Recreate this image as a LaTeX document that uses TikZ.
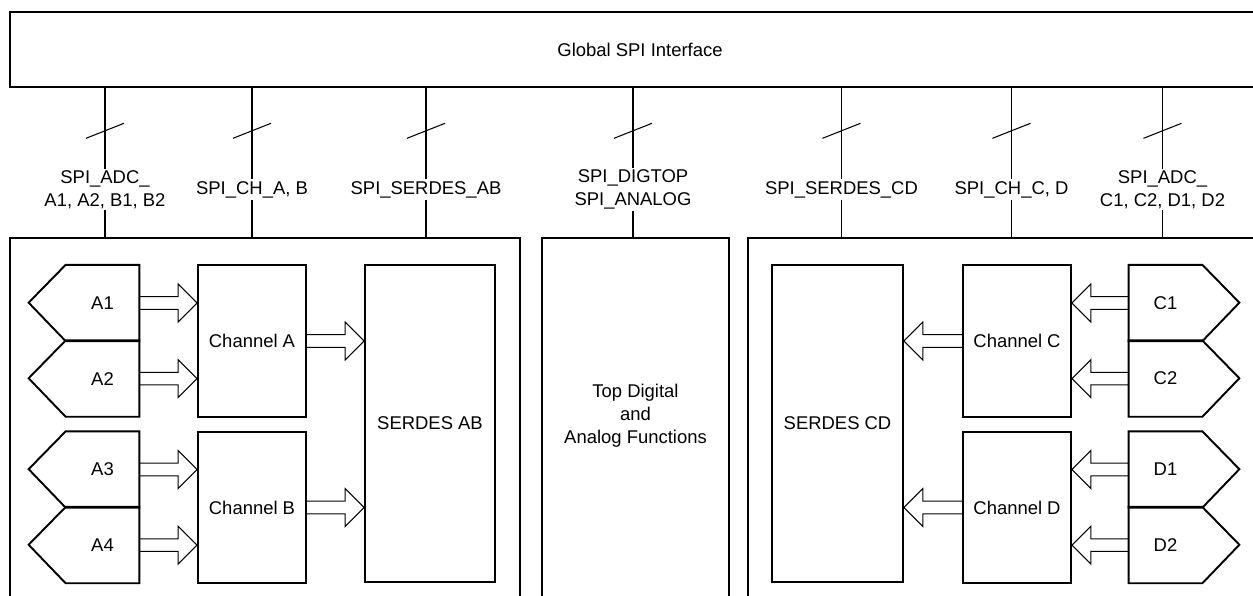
\documentclass[tikz,border=0pt]{standalone}
\usepackage{fontspec}
\setmainfont{Liberation Sans}
\usetikzlibrary{calc}

\newcommand{\pxu}{0.02cm}

\tikzset{
  blk/.style={draw, line width=1.1pt, inner sep=0pt},
  adc/.style={inner sep=0pt, minimum width=73*\pxu, minimum height=75.6*\pxu},
  chan/.style={blk, minimum width=108*\pxu, minimum height=151.5*\pxu},
  serdes/.style={blk, minimum width=130*\pxu, minimum height=317*\pxu},
  bus/.style={line width=0.6pt},
  buslabel/.style={fill=white, inner sep=1pt, align=center},
  fatline/.style={line width=0.6pt}
}

\newcommand{\fatarrow}[2]{%
  \draw[fatline] let \p1=(#1), \p2=(#2), \n1={sign(\x2-\x1)*10.8} in
    (\x1,\y1+3.6pt) -- (\x2-\n1*1pt,\y1+3.6pt) -- (\x2-\n1*1pt,\y1+10.8pt)
    -- (\x2,\y1) -- (\x2-\n1*1pt,\y1-10.8pt) -- (\x2-\n1*1pt,\y1-3.6pt) -- (\x1,\y1-3.6pt);
}

\begin{document}
\begin{tikzpicture}[x=0.02cm, y=-0.02cm, font=\fontsize{10.5}{13}\selectfont]
    \useasboundingbox (0,0) rectangle (1253,595);
    \clip (0,0) rectangle (1253,595);

    \node[blk, minimum width=1260*\pxu, minimum height=75.5*\pxu] (spi) at (640,49.5) {Global SPI Interface};

    \node[blk, minimum width=510*\pxu, minimum height=402*\pxu] (grpab) at (265,439) {};
    \node[blk, minimum width=187*\pxu, minimum height=402*\pxu] (topfn) at (635.5,439) {};
    \node[blk, minimum width=522*\pxu, minimum height=402*\pxu] (grpcd) at (1009,439) {};
    \node[align=center] (topfntxt) at (635.5,416) {Top Digital\\and\\Analog Functions};

    \foreach \bx/\nm/\txt in {105/adcab/{SPI\_ADC\_\\A1, A2, B1, B2}, 252/chab/{SPI\_CH\_A, B},
        426/serab/{SPI\_SERDES\_AB}, 633/top/{SPI\_DIGTOP\\SPI\_ANALOG},
        841.5/sercd/{SPI\_SERDES\_CD}, 1011.5/chcd/{SPI\_CH\_C, D},
        1162.5/adccd/{SPI\_ADC\_\\C1, C2, D1, D2}} {
      \coordinate (top-\nm) at (\bx,87);
      \coordinate (bot-\nm) at (\bx,239);
      \draw[bus] (top-\nm) -- (bot-\nm);
      \draw[bus] (\bx-19,138.3) -- (\bx+19,123.3);
      \node[buslabel] (lbl-\nm) at (\bx,189.5) {\txt};
    }

    \node[adc] (a1) at (102.5,303) {A1};
    \node[adc] (a2) at (102.5,378.6) {A2};
    \node[adc] (a3) at (102.5,469.5) {A3};
    \node[adc] (a4) at (102.5,545.1) {A4};
    \foreach \n in {a1,a2,a3,a4}
      \draw[blk] (\n.south west) -- (\n.south east) -- (\n.north east) -- (\n.north west)
        -- ++(-37,37.8) -- cycle;

    \node[adc] (c1) at (1165.5,303) {C1};
    \node[adc] (c2) at (1165.5,378.6) {C2};
    \node[adc] (d1) at (1165.5,469.5) {D1};
    \node[adc] (d2) at (1165.5,545.1) {D2};
    \foreach \n in {c1,c2,d1,d2}
      \draw[blk] (\n.south east) -- (\n.south west) -- (\n.north west) -- (\n.north east)
        -- ++(37,37.8) -- cycle;

    \node[chan] (cha) at (252,341) {Channel A};
    \node[chan] (chb) at (252,507.5) {Channel B};
    \node[chan] (chc) at (1017,341) {Channel C};
    \node[chan] (chd) at (1017,507.5) {Channel D};
    \node[serdes] (sab) at (430,423.5) {SERDES AB};
    \node[serdes, minimum width=131*\pxu] (scd) at (837.5,423.5) {SERDES CD};

    \fatarrow{a1.east}{a1.east -| cha.west}
    \fatarrow{a2.east}{a2.east -| cha.west}
    \fatarrow{a3.east}{a3.east -| chb.west}
    \fatarrow{a4.east}{a4.east -| chb.west}
    \fatarrow{cha.east}{cha.east -| sab.west}
    \fatarrow{chb.east}{chb.east -| sab.west}

    \fatarrow{c1.west}{c1.west -| chc.east}
    \fatarrow{c2.west}{c2.west -| chc.east}
    \fatarrow{d1.west}{d1.west -| chd.east}
    \fatarrow{d2.west}{d2.west -| chd.east}
    \fatarrow{chc.west}{chc.west -| scd.east}
    \fatarrow{chd.west}{chd.west -| scd.east}
\end{tikzpicture}
\end{document}
